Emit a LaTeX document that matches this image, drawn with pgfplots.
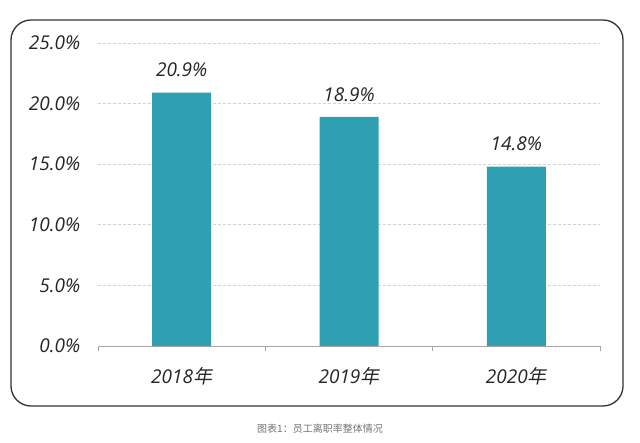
\documentclass[border=0pt]{standalone}
\usepackage{fontspec}
\setmainfont{Open Sans}
\newfontfamily\cjk{Noto Sans CJK SC}[FakeSlant=0.2]
\newfontfamily\cjkup{Noto Sans CJK SC}
\usepackage{pgfplots}
\pgfplotsset{compat=1.18}
\definecolor{barteal}{RGB}{46,160,178}
\definecolor{txt}{RGB}{38,38,38}
\definecolor{gridc}{RGB}{210,210,210}
\begin{document}
\begin{tikzpicture}[x=1bp,y=1bp]
\useasboundingbox (0,0) rectangle (640,443);
\draw[line width=1.3bp, color=black!80, rounded corners=20bp] (11,37) rectangle (623,423);
\node[font=\cjkup\fontsize{10bp}{12bp}\selectfont, text=black!55] at (320,14) {图表1：员工离职率整体情况};
\begin{axis}[
  at={(98bp,97bp)}, anchor=south west,
  scale only axis,
  width=502bp, height=303bp,
  xmin=-0.5, xmax=2.5,
  ymin=0, ymax=25,
  axis x line*=bottom,
  axis y line*=left,
  y axis line style={draw=none},
  x axis line style={color=black!35, line width=0.8bp},
  xtick={0,1,2},
  xticklabels={2018{\cjk 年},2019{\cjk 年},2020{\cjk 年}},
  major tick style={draw=none},
  minor xtick={-0.5,0.5,1.5,2.5},
  minor tick length=5bp,
  minor x tick style={color=black!35, line width=0.8bp},
  tick align=outside,
  xticklabel style={font=\itshape\fontsize{19bp}{22bp}\selectfont, text=txt, yshift=-14bp},
  ytick={0,5,10,15,20,25},
  yticklabels={0.0\%,5.0\%,10.0\%,15.0\%,20.0\%,25.0\%},
  yticklabel style={font=\itshape\fontsize{19bp}{22bp}\selectfont, text=txt, xshift=-10bp},
  ymajorgrids,
  grid style={dash pattern=on 3bp off 2bp, color=gridc, line width=0.6bp},
  clip=false,
]
\addplot[ybar, bar width=59bp, fill=barteal, draw=none,
  nodes near coords={\pgfmathprintnumber[fixed,fixed zerofill,precision=1,assume math mode=true]{\pgfplotspointmeta}\%},
  every node near coord/.append style={font=\itshape\fontsize{19bp}{22bp}\selectfont, text=txt, anchor=south, yshift=12bp}]
  coordinates {(0,20.9) (1,18.9) (2,14.8)};
\end{axis}
\end{tikzpicture}
\end{document}
